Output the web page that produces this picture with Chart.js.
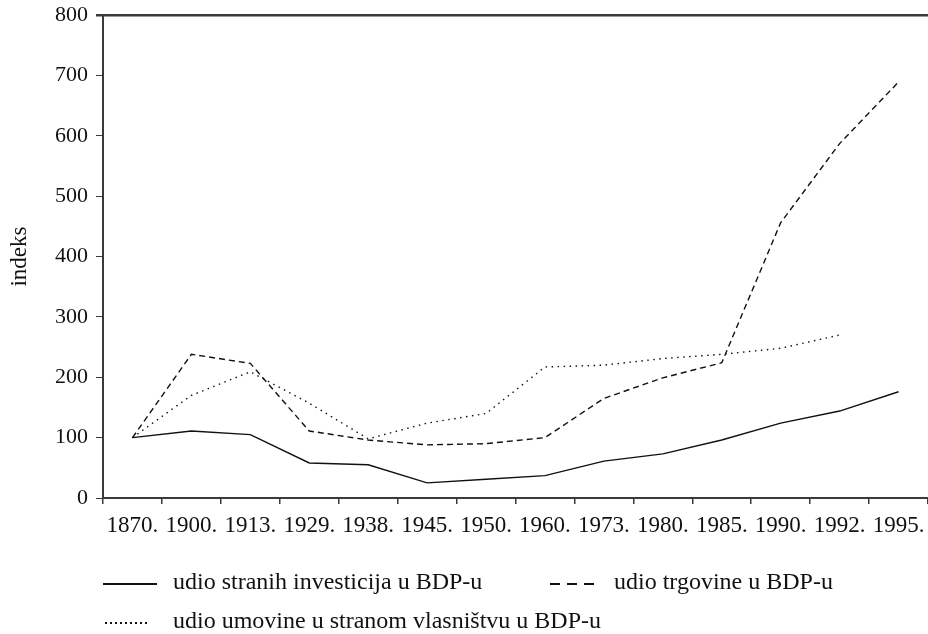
<!DOCTYPE html>
<html>
<head>
<meta charset="utf-8">
<script src="https://cdn.jsdelivr.net/npm/chart.js@4/dist/chart.umd.min.js"></script>
<style>
  html, body { margin: 0; padding: 0; background: #fff; }
  #wrap { width: 928px; height: 634px; position: relative; }
</style>
</head>
<body>
<div id="wrap"><canvas id="c" width="928" height="634"></canvas></div>
<script>
const years = ['1870.', '1900.', '1913.', '1929.', '1938.', '1945.', '1950.', '1960.', '1973.', '1980.', '1985.', '1990.', '1992.', '1995.'];
const investicije = [100, 111, 105, 58, 55, 25, 31, 37, 61, 73, 96, 124, 144, 176];
const trgovina = [100, 238, 223, 111, 96, 88, 90, 100, 165, 199, 224, 456, 587, 689];
const imovina = [100, 170, 209, 157, 98, 124, 140, 217, 220, 231, 238, 248, 270, null];
const seriesLabels = ['udio stranih investicija u BDP-u', 'udio trgovine u BDP-u', 'udio umovine u stranom vlasništvu u BDP-u'];
const yTitle = 'indeks';

const FONT = "'Liberation Serif', 'Times New Roman', serif";
const AXIS = '#3a3a3a';

const legendPlugin = {
  id: 'customLegend',
  afterDraw(chart) {
    const ctx = chart.ctx;
    const items = [
      { ds: 0, x1: 103, x2: 157, y: 584, tx: 173, dash: [], w: 2.2 },
      { ds: 1, x1: 550, x2: 596, y: 584, tx: 614, dash: [10, 7], w: 2.2 },
      { ds: 2, x1: 105, x2: 147, y: 623, tx: 173, dash: [2, 3], w: 1.8 }
    ];
    ctx.save();
    items.forEach(it => {
      ctx.beginPath();
      ctx.setLineDash(it.dash);
      ctx.lineWidth = it.w;
      ctx.strokeStyle = '#111';
      ctx.moveTo(it.x1, it.y);
      ctx.lineTo(it.x2, it.y);
      ctx.stroke();
      ctx.setLineDash([]);
      ctx.fillStyle = '#111';
      ctx.font = "24px " + FONT;
      ctx.textBaseline = 'alphabetic';
      ctx.textAlign = 'left';
      ctx.fillText(chart.data.datasets[it.ds].label, it.tx, it.y + 5);
    });
    ctx.restore();
  }
};

new Chart(document.getElementById('c'), {
  type: 'line',
  data: {
    labels: years,
    datasets: [
      { label: seriesLabels[0], data: investicije, borderColor: '#111', borderWidth: 1.4, pointRadius: 0, tension: 0, fill: false },
      { label: seriesLabels[1], data: trgovina, borderColor: '#111', borderWidth: 1.4, borderDash: [6, 4], pointRadius: 0, tension: 0, fill: false },
      { label: seriesLabels[2], data: imovina, borderColor: '#111', borderWidth: 1.4, borderDash: [1.5, 4.5], pointRadius: 0, tension: 0, fill: false }
    ]
  },
  options: {
    responsive: false,
    animation: false,
    devicePixelRatio: 1,
    layout: { padding: { top: 15, right: 0, bottom: 96, left: 0 } },
    plugins: { legend: { display: false }, tooltip: { enabled: false } },
    scales: {
      x: {
        type: 'category',
        offset: true,
        grid: { offset: true, drawOnChartArea: false, color: AXIS, tickColor: AXIS, tickLength: 6, lineWidth: 1.5 },
        border: { color: AXIS, width: 2 },
        ticks: { color: '#111', font: { family: FONT, size: 23 }, padding: 8, autoSkip: false, maxRotation: 0, minRotation: 0 },
        afterFit(scale) { scale.height = 40; scale.paddingLeft = 0; scale.paddingRight = 0; }
      },
      y: {
        min: 0, max: 800,
        ticks: { stepSize: 100, color: '#111', font: { family: FONT, size: 22 }, padding: 8 },
        grid: {
          drawOnChartArea: true,
          color: (c) => (c.tick && c.tick.value === 800 ? AXIS : 'rgba(0,0,0,0)'),
          lineWidth: (c) => (c.tick && c.tick.value === 800 ? 2.5 : 1),
          tickColor: AXIS, tickLength: 7
        },
        border: { color: AXIS, width: 2 },
        title: { display: true, text: yTitle, color: '#111', font: { family: FONT, size: 23 }, padding: { top: 6, bottom: 0 } },
        afterFit(scale) { scale.width = 103; scale.paddingTop = 0; scale.paddingBottom = 0; }
      }
    }
  },
  plugins: [legendPlugin]
});
</script>
</body>
</html>
